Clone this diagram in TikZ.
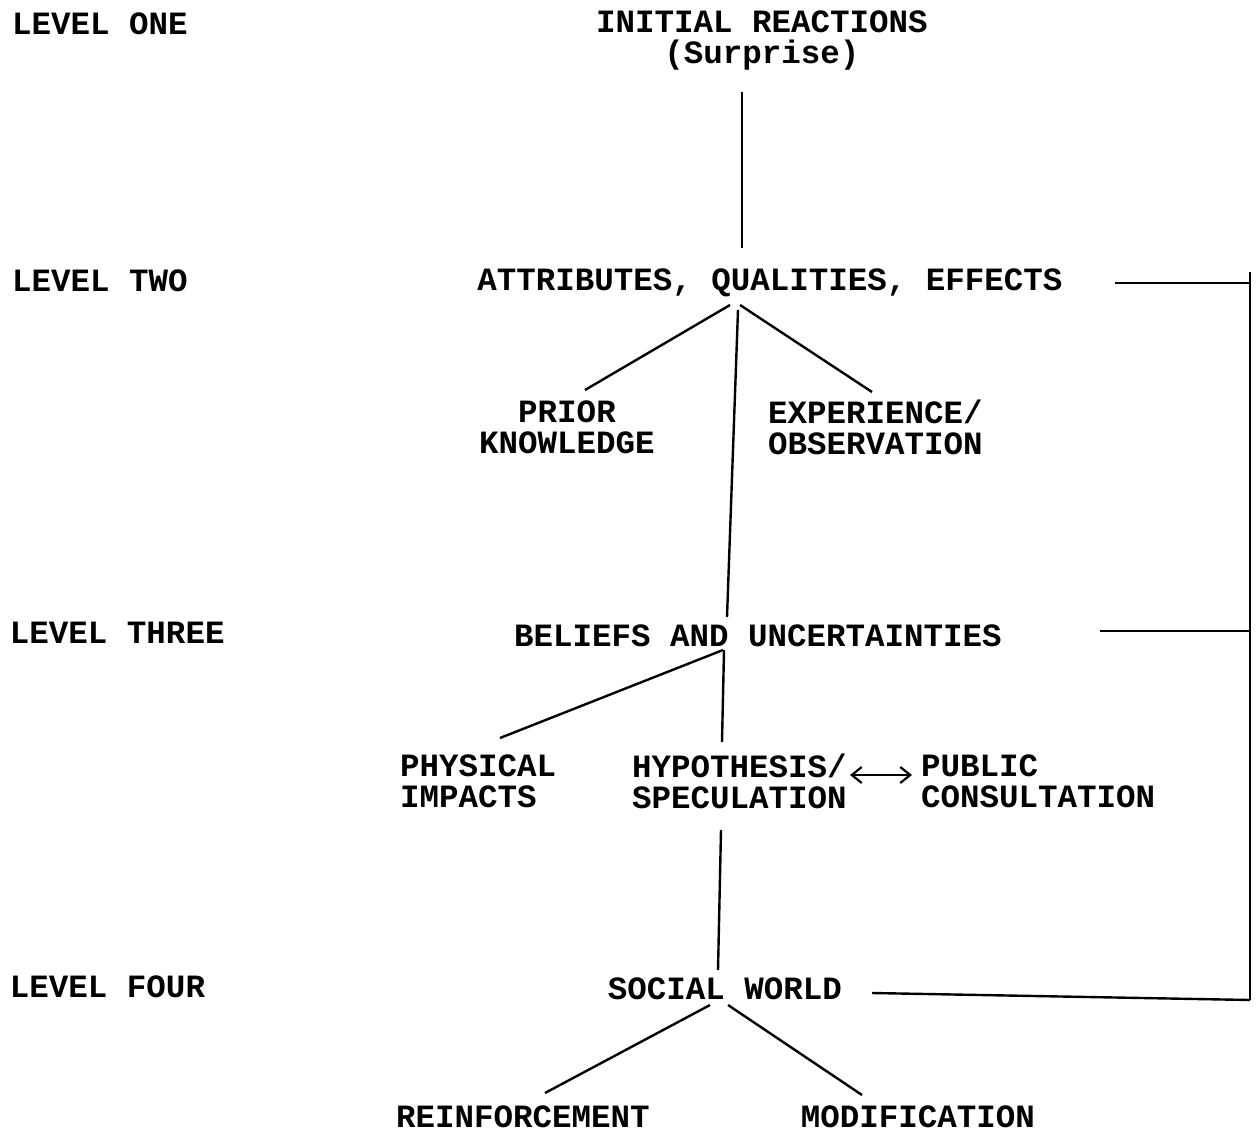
\documentclass[tikz,border=0pt]{standalone}
\usepackage{fontspec}
\setmonofont{Liberation Mono}
\usetikzlibrary{arrows.meta}
\begin{document}
\begin{tikzpicture}[x=0.5pt,y=-0.5pt,
  lbl/.style={font=\fontsize{16.25}{15.5}\selectfont\ttfamily\bfseries, inner sep=0pt, outer sep=0pt},
  ln/.style={line width=1.2pt},
  dbl/.style={line width=1.1pt, {Straight Barb[length=5pt,width=8pt]}-{Straight Barb[length=5pt,width=8pt]}}]
\useasboundingbox (0,0) rectangle (1257,1134);
% level labels
\node[lbl,anchor=west] (l1) at (12,24) {LEVEL ONE};
\node[lbl,anchor=west] (l2) at (12,281) {LEVEL TWO};
\node[lbl,anchor=west] (l3) at (10,633) {LEVEL THREE};
\node[lbl,anchor=west] (l4) at (10,987) {LEVEL FOUR};
% main nodes
\node[lbl,align=center] (init) at (762,41) {INITIAL REACTIONS\\(Surprise)};
\node[lbl] (attr) at (770,283) {ATTRIBUTES, QUALITIES, EFFECTS};
\node[lbl,align=center] (prior) at (567,427) {PRIOR\\KNOWLEDGE};
\node[lbl,align=left,anchor=west] (exp) at (768,427) {EXPERIENCE/\\OBSERVATION};
\node[lbl] (bel) at (758,636) {BELIEFS AND UNCERTAINTIES};
\node[lbl,align=left,anchor=west] (phys) at (400,781) {PHYSICAL\\IMPACTS};
\node[lbl,align=left,anchor=west] (hyp) at (632,781) {HYPOTHESIS/\\SPECULATION};
\node[lbl,align=left,anchor=west] (pub) at (921,781) {PUBLIC\\CONSULTATION};
\node[lbl] (soc) at (725,989) {SOCIAL WORLD};
\node[lbl] (reinf) at (523,1117) {REINFORCEMENT};
\node[lbl] (modif) at (918,1117) {MODIFICATION};
% endpoint coordinates
\coordinate (i1) at (742,92);  \coordinate (a0) at (742,248);
\coordinate (a1) at (730,305); \coordinate (p1) at (585,390);
\coordinate (a2) at (740,305); \coordinate (e1) at (872,392);
\coordinate (a3) at (738,310); \coordinate (b0) at (727,617);
\coordinate (b1) at (723,650); \coordinate (ph1) at (500,738);
\coordinate (b2) at (724,650); \coordinate (h1) at (722,742);
\coordinate (h2) at (721,830); \coordinate (s0) at (718,970);
\coordinate (s1) at (710,1005); \coordinate (r1) at (545,1093);
\coordinate (s2) at (728,1005); \coordinate (m1) at (862,1095);
\coordinate (ha) at (850,775); \coordinate (pa) at (912,775);
\coordinate (attrR) at (1115,283); \coordinate (belR) at (1100,631); \coordinate (socR) at (872,993);
\coordinate (bt) at (1250,272); \coordinate (bb) at (1250,1000);
% connectors
\draw[ln] (i1) -- (a0);
\draw[ln] (a1) -- (p1);
\draw[ln] (a2) -- (e1);
\draw[ln] (a3) -- (b0);
\draw[ln] (b1) -- (ph1);
\draw[ln] (b2) -- (h1);
\draw[ln] (h2) -- (s0);
\draw[ln] (s1) -- (r1);
\draw[ln] (s2) -- (m1);
\draw[dbl] (ha) -- (pa);
\draw[ln] (attrR) -- (attrR -| bt);
\draw[ln] (belR) -- (belR -| bt);
\draw[ln] (socR) -- (bb);
\draw[ln] (bt) -- (bb);
\end{tikzpicture}
\end{document}
